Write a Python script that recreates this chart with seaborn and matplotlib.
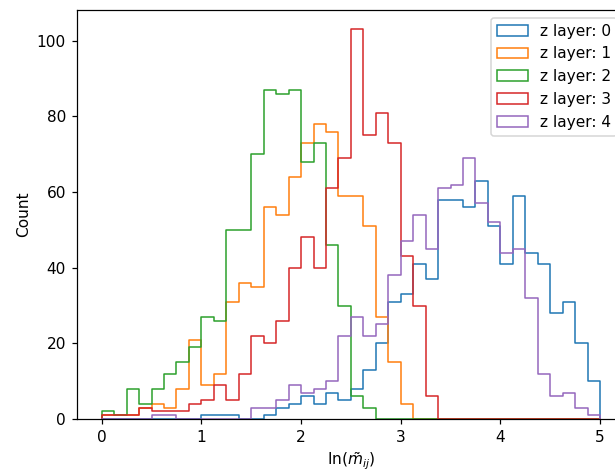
import numpy as np
import pandas as pd
import matplotlib
matplotlib.use("Agg")
import matplotlib.pyplot as plt
from matplotlib.patches import Patch
import seaborn as sns

# bin edges: 40 bins of width 0.125 on [0, 5]
bin_lo = 0.0
bin_hi = 5.0
n_bins = 40

layer_names = ["z layer: 0", "z layer: 1", "z layer: 2", "z layer: 3", "z layer: 4"]
layer_colors = ["#1f77b4", "#ff7f0e", "#2ca02c", "#d62728", "#9467bd"]

counts_layer0 = [0, 0, 0, 0, 0, 0, 0, 0, 1, 1, 1, 0, 0, 1, 3, 4, 6, 4, 7, 5,
                 8, 13, 20, 31, 33, 41, 37, 58, 58, 56, 63, 51, 41, 59, 44, 41, 28, 31, 20, 10]
counts_layer1 = [1, 1, 1, 3, 4, 3, 8, 21, 9, 12, 31, 36, 35, 56, 54, 64, 73, 78, 76, 59,
                 59, 51, 27, 15, 4, 0, 0, 0, 0, 0, 0, 0, 0, 0, 0, 0, 0, 0, 0, 0]
counts_layer2 = [2, 1, 8, 4, 8, 12, 15, 19, 27, 26, 50, 50, 70, 87, 86, 87, 68, 73, 46, 30,
                 6, 3, 0, 0, 0, 0, 0, 0, 0, 0, 0, 0, 0, 0, 0, 0, 0, 0, 0, 0]
counts_layer3 = [1, 1, 1, 3, 2, 2, 2, 4, 5, 9, 5, 12, 22, 20, 26, 40, 48, 40, 61, 69,
                 103, 75, 81, 73, 43, 30, 6, 0, 0, 0, 0, 0, 0, 0, 0, 0, 0, 0, 0, 0]
counts_layer4 = [0, 0, 0, 0, 1, 1, 0, 0, 0, 0, 0, 0, 3, 3, 5, 9, 7, 8, 10, 22,
                 27, 22, 25, 38, 47, 54, 45, 61, 62, 69, 57, 52, 44, 45, 32, 12, 6, 7, 3, 1]

all_counts = [counts_layer0, counts_layer1, counts_layer2, counts_layer3, counts_layer4]

width = (bin_hi - bin_lo) / n_bins
# pad with one empty bin on each side so the outline closes down to zero
lo_pad = bin_lo - width
hi_pad = bin_hi + width
edges = np.linspace(lo_pad, hi_pad, n_bins + 3)
centers = (edges[:-1] + edges[1:]) / 2

rows = []
for name, cnts in zip(layer_names, all_counts):
    padded = [0] + list(cnts) + [0]
    for c, w in zip(centers, padded):
        rows.append({"x": c, "count": w, "layer": name})
df = pd.DataFrame(rows)

DPI = 110.5
fig = plt.figure(figsize=(615 / DPI, 473 / DPI), dpi=DPI)
ax = fig.add_axes([76.8 / 615, 54 / 473, (625 - 76.8) / 615, (419 - 10) / 473])

sns.histplot(data=df, x="x", weights="count", hue="layer", hue_order=layer_names[::-1],
             palette=layer_colors[::-1], bins=n_bins + 2, binrange=(lo_pad, hi_pad),
             element="step", fill=False, linewidth=1.0, legend=False, ax=ax)

# close the outlines at the data range ends (vertical drop to zero at 0 and 5)
for ln in ax.lines:
    xd = np.clip(np.asarray(ln.get_xdata(), dtype=float), bin_lo, bin_hi)
    ln.set_xdata(xd)

ax.set_xlim(-0.25, 5.25)
ax.set_ylim(0, 108.15)
ax.set_xticks([0, 1, 2, 3, 4, 5])
ax.set_yticks([0, 20, 40, 60, 80, 100])
ax.set_xlabel(r"$\ln(\tilde{m}_{ij})$")
ax.set_ylabel("Count")

handles = [Patch(facecolor="none", edgecolor=c, label=n) for n, c in zip(layer_names, layer_colors)]
ax.legend(handles=handles, loc="upper right")

fig.savefig("out.png", dpi=DPI)
